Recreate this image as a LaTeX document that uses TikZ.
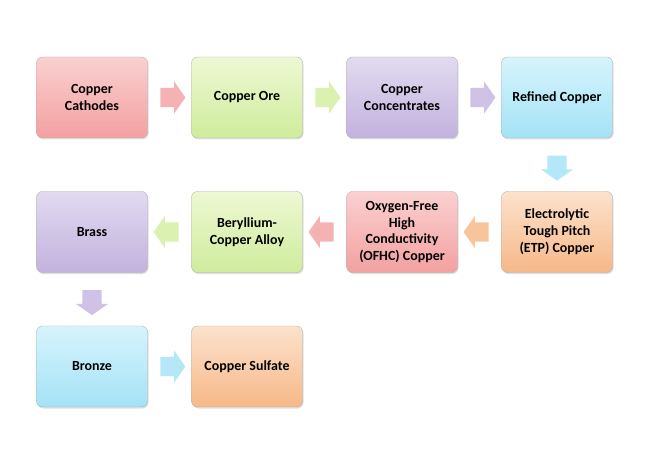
\documentclass[tikz,border=0pt]{standalone}
\usepackage{fontspec}
\setmainfont{Carlito}
\usetikzlibrary{shapes.arrows,shadows,calc}

\definecolor{pkT}{HTML}{FAD0D0}\definecolor{pkB}{HTML}{F3A0A0}\definecolor{pkA}{HTML}{F5B2B2}
\definecolor{grT}{HTML}{EEF8D4}\definecolor{grB}{HTML}{CFEC9C}\definecolor{grA}{HTML}{DAF1B2}
\definecolor{puT}{HTML}{E2DAF0}\definecolor{puB}{HTML}{C2B2DE}\definecolor{puA}{HTML}{CFC2E6}
\definecolor{cyT}{HTML}{D6F4FC}\definecolor{cyB}{HTML}{A4E2F6}\definecolor{cyA}{HTML}{B4E8F8}
\definecolor{orT}{HTML}{FCE2CC}\definecolor{orB}{HTML}{F6B888}\definecolor{orA}{HTML}{F8C49C}

\begin{document}
\begin{tikzpicture}[x=1bp,y=-1bp,
  box/.style = {rectangle,rounded corners=6bp,draw=black!30,thin,
                minimum width=111bp,minimum height=81bp,inner sep=2bp,align=center,
                top color=#1T,bottom color=#1B,
                drop shadow={opacity=0.25,shadow xshift=1bp,shadow yshift=-1.5bp},
                font=\fontsize{14}{17}\selectfont\bfseries},
  flow/.style = {single arrow,draw=none,fill=#1A,inner sep=0pt,
                 minimum height=25bp,
                 single arrow head extend=6.5bp,single arrow tip angle=110}]
\useasboundingbox (0,0) rectangle (650,450);
\foreach \n/\x/\y/\c/\t in {
    cath/92/97.5/pk/{Copper\\Cathodes},
    ore/247/97.5/gr/{Copper Ore},
    conc/402/97.5/pu/{Copper\\Concentrates},
    refi/557/97.5/cy/{Refined Copper},
    etp/557/232/or/{Electrolytic\\Tough Pitch\\(ETP) Copper},
    ofhc/402/232/pk/{Oxygen-Free\\High\\Conductivity\\(OFHC) Copper},
    bery/247/232/gr/{Beryllium-\\Copper Alloy},
    brass/92/232/pu/{Brass},
    bronze/92/366.5/cy/{Bronze},
    sulf/247/366.5/or/{Copper Sulfate}}
    \node[box=\c] (\n) at (\x,\y) {\t};
% block arrows between the boxes
\foreach \a/\b/\c/\r in {cath/ore/pk/0, ore/conc/gr/0, conc/refi/pu/0,
    refi/etp/cy/270, etp/ofhc/or/180, ofhc/bery/pk/180, bery/brass/gr/180,
    brass/bronze/pu/270, bronze/sulf/cy/0}
    \node[flow=\c,rotate=\r] at ($(\a)!0.5!(\b)$) {\rule{0pt}{19bp}};
\end{tikzpicture}
\end{document}
